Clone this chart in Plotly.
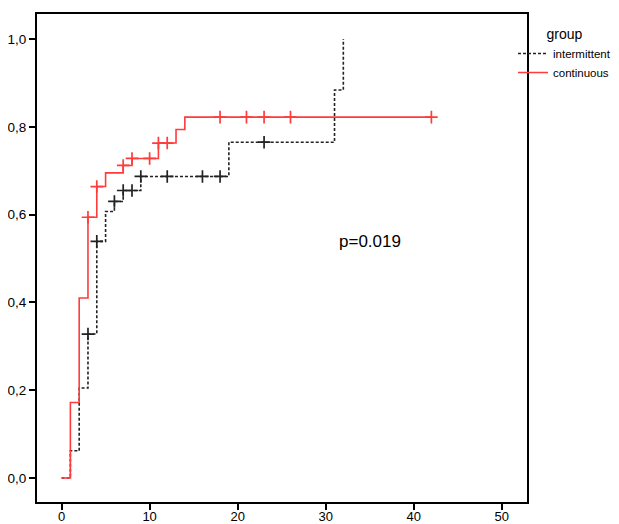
import plotly.graph_objects as go

# ---- data ----
group_names = ["intermittent", "continuous"]

intermittent_times = [0, 1, 2, 3, 4, 5, 6, 7, 9, 19, 31, 32]
intermittent_values = [0.0, 0.062, 0.205, 0.328, 0.539, 0.607, 0.630, 0.655, 0.687, 0.765, 0.884, 1.0]
intermittent_censored = [3, 4, 6, 7, 8, 9, 12, 16, 18, 23]

continuous_times = [0, 1, 2, 3, 4, 5, 7, 8, 11, 13, 14]
continuous_values = [0.0, 0.172, 0.410, 0.594, 0.664, 0.695, 0.712, 0.728, 0.763, 0.794, 0.822]
continuous_end = 42
continuous_censored = [3, 4, 7, 8, 10, 11, 12, 18, 21, 23, 26, 42]

x_ticks = [0, 10, 20, 30, 40, 50]
y_ticks = [0.0, 0.2, 0.4, 0.6, 0.8, 1.0]
y_ticktext = ["0,0", "0,2", "0,4", "0,6", "0,8", "1,0"]
p_text = "p=0.019"


def step_value(times, values, t):
    v = values[0]
    for ti, vi in zip(times, values):
        if ti <= t:
            v = vi
    return v


FONT = "Liberation Sans, Arial, sans-serif"
fig = go.Figure()

series = [
    (group_names[0], intermittent_times, intermittent_values, None, intermittent_censored,
     "#222222", dict(color="#222222", width=1.6, dash="3px,2px")),
    (group_names[1], continuous_times, continuous_values, continuous_end, continuous_censored,
     "#ff3b3b", dict(color="#ff3b3b", width=1.6)),
]

for name, times, values, end, cens, col, line in series:
    xs = list(times)
    ys = list(values)
    if end is not None:
        xs.append(end)
        ys.append(values[-1])
    fig.add_trace(go.Scatter(
        x=xs, y=ys, mode="lines", name=name, line=dict(shape="hv", **line),
        legendgroup=name, hoverinfo="x+y+name"))
    fig.add_trace(go.Scatter(
        x=cens, y=[step_value(times, values, t) for t in cens], mode="markers",
        name=name + " censored", legendgroup=name, showlegend=False,
        marker=dict(symbol="cross-thin", size=9, line=dict(color=col, width=1.7))))

fig.add_annotation(x=35.0, y=0.538, text=p_text, showarrow=False,
                   font=dict(family=FONT, size=17, color="black"))

fig.update_layout(
    width=619, height=524,
    margin=dict(l=29, r=100, t=6, b=30),
    paper_bgcolor="white", plot_bgcolor="white",
    font=dict(family=FONT, size=13, color="black"),
    showlegend=True,
    legend=dict(
        x=0.9714, y=0.986, xanchor="left", yanchor="top",
        bgcolor="rgba(0,0,0,0)", itemwidth=30,
        font=dict(family=FONT, size=11.5, color="black"),
        title=dict(text="group", side="top center", font=dict(family=FONT, size=14)),
        tracegroupgap=0,
    ),
    xaxis=dict(
        range=[-2.79, 52.86], tickvals=x_ticks, ticks="outside", ticklen=6, tickwidth=1.5,
        tickcolor="black", showgrid=False, zeroline=False, showline=True, linecolor="black",
        linewidth=2, mirror=True, automargin=False, tickfont=dict(size=13),
        ticklabelstandoff=-5),
    yaxis=dict(
        range=[-0.0546, 1.057], tickvals=y_ticks, ticktext=y_ticktext, ticks="outside",
        ticklen=6, tickwidth=1.5, tickcolor="black", showgrid=False, zeroline=False,
        showline=True, linecolor="black", linewidth=2, mirror=True, automargin=False,
        tickfont=dict(size=13.5)),
)

fig.write_html("out.html")
